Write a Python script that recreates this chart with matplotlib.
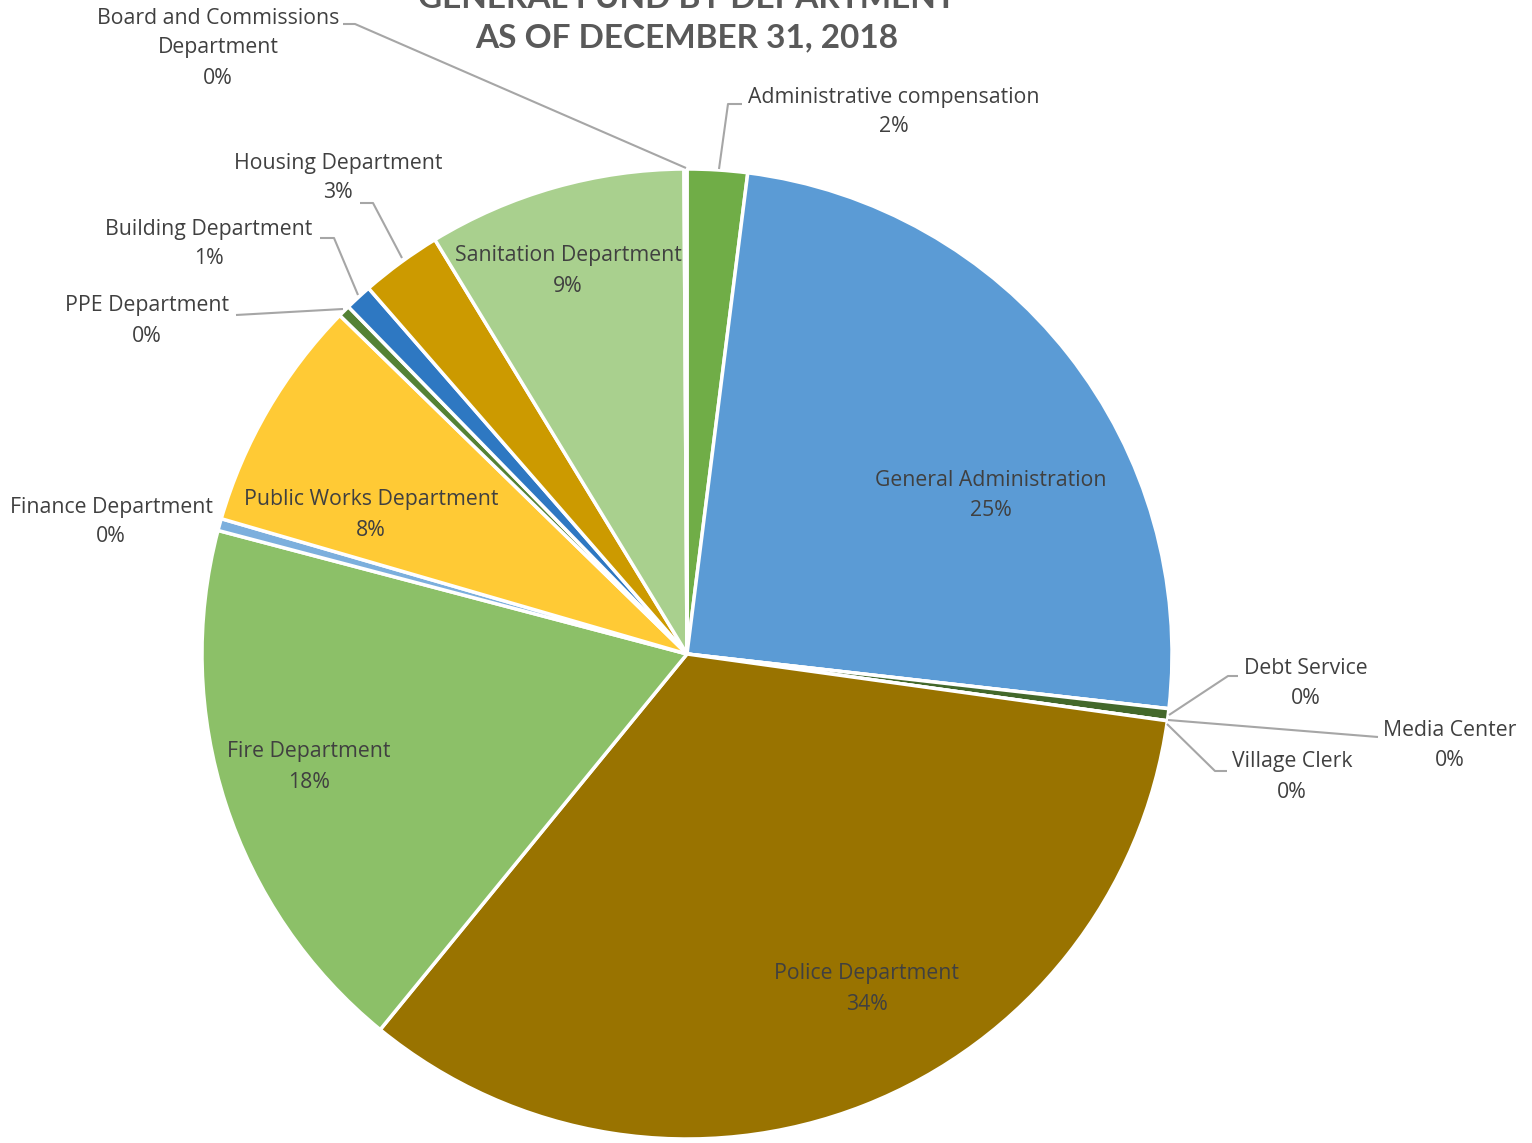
#!/usr/bin/env python3
"""General fund by department, pie chart with callout labels."""

import matplotlib
matplotlib.use("Agg")
import matplotlib.pyplot as plt

W, H = 1532, 1143

departments = [
    "Administrative compensation",
    "General Administration",
    "Debt Service",
    "Media Center",
    "Village Clerk",
    "Police Department",
    "Fire Department",
    "Finance Department",
    "Public Works Department",
    "PPE Department",
    "Building Department",
    "Housing Department",
    "Sanitation Department",
    "Board and Commissions\nDepartment",
]
shares = [2.0, 24.8, 0.0, 0.4, 0.0, 33.7, 18.2, 0.4, 7.8, 0.4, 0.9, 2.7, 8.6, 0.1]
colors = [
    "#70AD47", "#5B9BD5", "#A5A5A5", "#43682B", "#264478", "#997300",
    "#8CC068", "#7CAFDD", "#FFCA35", "#548235", "#2E78C2", "#CC9A00",
    "#A9D08E", "#636363",
]
title_lines = ["GENERAL FUND BY DEPARTMENT", "AS OF DECEMBER 31, 2018"]

# label layout in pixel coords (x, y of first line), and leader lines
label_pos = {
    "Administrative compensation": (894, 97),
    "General Administration": (991, 481),
    "Debt Service": (1306, 668),
    "Media Center": (1450, 730),
    "Village Clerk": (1292, 762),
    "Police Department": (867, 974),
    "Fire Department": (309, 752),
    "Finance Department": (111, 507),
    "Public Works Department": (371, 500),
    "PPE Department": (147, 306),
    "Building Department": (209, 229),
    "Housing Department": (338, 163),
    "Sanitation Department": (568, 256),
    "Board and Commissions\nDepartment": (218, 18),
}
leaders = [
    [(719, 169), (728, 104), (742, 104)],
    [(686, 168), (355, 24), (343, 24)],
    [(402, 258), (373, 203), (360, 203)],
    [(358, 295), (334, 238), (320, 238)],
    [(343, 309), (236, 315)],
    [(1169, 715), (1228, 676), (1238, 676)],
    [(1168, 720), (1378, 737)],
    [(1167, 724), (1215, 771), (1227, 771)],
]

CENTER = (687, 654)
RADIUS = 485
TEXT = "#404040"
FONT = "Open Sans"
LINE_STEP = 30


def fy(y):
    return H - y


def main():
    fig = plt.figure(figsize=(W / 100, H / 100), dpi=100)
    ax = fig.add_axes([0, 0, 1, 1])

    ax.pie(
        shares,
        colors=colors,
        startangle=90,
        counterclock=False,
        center=(CENTER[0], fy(CENTER[1])),
        radius=RADIUS,
        normalize=True,
        wedgeprops=dict(edgecolor="white", linewidth=2.5),
    )
    ax.set_xlim(0, W)
    ax.set_ylim(0, H)
    ax.set_aspect("auto")
    ax.axis("off")

    for pts in leaders:
        xs = [p[0] for p in pts]
        ys = [fy(p[1]) for p in pts]
        ax.plot(xs, ys, color="#A6A6A6", lw=1.5, solid_capstyle="butt")

    for name, share in zip(departments, shares):
        x, y = label_pos[name]
        lines = name.split("\n") + [f"{round(share):.0f}%"]
        for i, line in enumerate(lines):
            ax.text(x, fy(y + LINE_STEP * i), line, ha="center", va="center",
                    fontsize=15.3, family=FONT, color=TEXT)

    for i, line in enumerate(title_lines):
        ax.text(687, fy(-2 + 40 * i), line, ha="center", va="center",
                fontsize=24, fontweight="bold", family="Lato", color="#595959")

    fig.savefig("out.png", dpi=100)
    plt.close(fig)


if __name__ == "__main__":
    main()
